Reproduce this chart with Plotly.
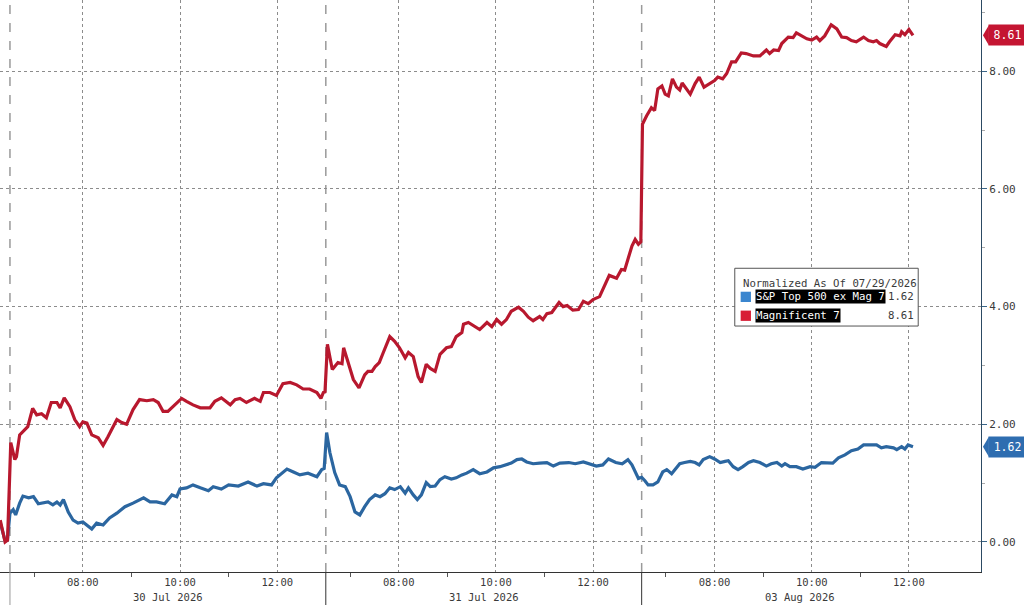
import plotly.graph_objects as go

# trading minutes counted from 30 Jul 06:30 (sessions 06:30-13:00, 390 min each)
mag7_t = [-12, -8, -6, -3, 0, 1, 6, 8, 12, 19,
          22, 28, 33, 39, 45, 51, 58, 62, 67, 74,
          80, 86, 90, 95, 101, 109, 115, 121, 132, 138,
          144, 152, 160, 169, 177, 183, 189, 195, 201, 212,
          218, 226, 235, 247, 253, 261, 272, 278, 284, 292,
          302, 309, 313, 321, 329, 337, 346, 354, 362, 370,
          379, 384, 387, 389, 392, 398, 405, 410, 412, 418,
          424, 431, 438, 442, 447, 451, 456, 461, 469, 475,
          481, 488, 492, 498, 504, 508, 514, 519, 525, 531,
          539, 545, 551, 558, 560, 566, 574, 580, 589, 595,
          601, 607, 613, 619, 628, 634, 640, 646, 654, 658,
          663, 669, 678, 683, 688, 695, 702, 708, 714, 720,
          728, 735, 740, 749, 755, 759, 763, 768, 772, 776,
          779, 781, 786, 792, 796, 800, 805, 809, 813, 818,
          823, 827, 830, 835, 840, 846, 851, 857, 864, 870,
          874, 880, 885, 891, 896, 903, 909, 918, 926, 934,
          938, 943, 949, 953, 961, 967, 971, 977, 984, 990,
          996, 1000, 1006, 1014, 1021, 1027, 1033, 1039, 1045, 1054,
          1060, 1066, 1070, 1074, 1082, 1086, 1093, 1099, 1101, 1105,
          1110, 1115]
mag7_v = [0.37, 0.15, 0.00, 0.03, 1.62, 1.69, 1.40, 1.45, 1.82, 1.91,
          1.96, 2.27, 2.16, 2.18, 2.11, 2.37, 2.37, 2.28, 2.45, 2.30,
          2.08, 1.96, 2.04, 2.02, 1.82, 1.77, 1.64, 1.79, 2.08, 2.03,
          2.00, 2.25, 2.42, 2.40, 2.42, 2.37, 2.22, 2.22, 2.30, 2.44,
          2.39, 2.33, 2.28, 2.28, 2.39, 2.45, 2.33, 2.42, 2.44, 2.37,
          2.44, 2.39, 2.54, 2.54, 2.49, 2.69, 2.71, 2.67, 2.60, 2.60,
          2.54, 2.44, 2.54, 2.55, 3.36, 2.93, 3.05, 3.03, 3.30, 3.05,
          2.76, 2.62, 2.84, 2.90, 2.90, 2.98, 3.05, 3.22, 3.49, 3.41,
          3.30, 3.13, 3.22, 3.15, 2.81, 2.71, 3.02, 2.95, 2.90, 3.19,
          3.30, 3.32, 3.49, 3.56, 3.70, 3.73, 3.66, 3.61, 3.73, 3.66,
          3.78, 3.70, 3.78, 3.92, 3.99, 3.92, 3.82, 3.76, 3.83, 3.78,
          3.88, 3.90, 4.07, 4.00, 4.02, 3.94, 3.95, 4.09, 4.05, 4.12,
          4.17, 4.38, 4.53, 4.48, 4.63, 4.62, 4.80, 5.03, 5.14, 5.06,
          5.10, 7.10, 7.24, 7.38, 7.33, 7.70, 7.75, 7.61, 7.58, 7.87,
          7.73, 7.68, 7.80, 7.70, 7.61, 7.79, 7.90, 7.73, 7.79, 7.84,
          7.90, 7.87, 7.96, 8.16, 8.16, 8.31, 8.30, 8.26, 8.26, 8.36,
          8.30, 8.36, 8.35, 8.47, 8.58, 8.57, 8.65, 8.60, 8.55, 8.53,
          8.58, 8.52, 8.60, 8.79, 8.72, 8.58, 8.57, 8.52, 8.50, 8.58,
          8.52, 8.50, 8.52, 8.47, 8.42, 8.50, 8.62, 8.60, 8.67, 8.62,
          8.71, 8.61]

spx_t = [-12, -8, -6, -3, 0, 4, 7, 12, 16, 23,
         29, 35, 41, 47, 53, 58, 62, 66, 72, 78,
         84, 90, 101, 107, 115, 123, 132, 142, 152, 165,
         173, 181, 191, 200, 206, 210, 218, 226, 235, 245,
         251, 261, 270, 282, 294, 305, 313, 323, 329, 342,
         350, 358, 368, 379, 385, 388, 391, 395, 401, 407,
         414, 420, 426, 432, 438, 444, 451, 457, 463, 469,
         475, 482, 488, 492, 498, 503, 508, 514, 519, 525,
         531, 537, 545, 551, 558, 564, 572, 580, 589, 597,
         605, 613, 619, 626, 632, 638, 646, 654, 663, 671,
         679, 690, 698, 708, 716, 724, 732, 739, 748, 756,
         763, 768, 776, 780, 784, 788, 794, 800, 806, 811,
         817, 823, 827, 833, 840, 846, 851, 856, 864, 870,
         877, 883, 887, 893, 899, 905, 912, 918, 926, 934,
         940, 947, 953, 957, 963, 971, 979, 988, 994, 1002,
         1010, 1016, 1023, 1031, 1039, 1047, 1054, 1062, 1070, 1076,
         1082, 1091, 1095, 1101, 1105, 1109, 1115]
spx_v = [0.33, 0.15, 0.02, 0.05, 0.49, 0.55, 0.46, 0.66, 0.78, 0.75,
         0.77, 0.65, 0.66, 0.68, 0.63, 0.68, 0.63, 0.72, 0.51, 0.37,
         0.32, 0.34, 0.22, 0.32, 0.29, 0.41, 0.49, 0.60, 0.66, 0.75,
         0.68, 0.68, 0.65, 0.80, 0.77, 0.90, 0.92, 0.97, 0.92, 0.87,
         0.94, 0.90, 0.97, 0.95, 1.02, 0.95, 0.99, 0.97, 1.09, 1.24,
         1.19, 1.14, 1.17, 1.11, 1.23, 1.25, 1.86, 1.52, 1.18, 0.97,
         0.94, 0.77, 0.51, 0.46, 0.60, 0.72, 0.80, 0.77, 0.82, 0.92,
         0.89, 0.94, 0.83, 0.92, 0.80, 0.72, 0.80, 1.01, 0.94, 0.95,
         1.06, 1.11, 1.07, 1.09, 1.14, 1.17, 1.23, 1.16, 1.19, 1.26,
         1.28, 1.31, 1.34, 1.40, 1.41, 1.36, 1.33, 1.34, 1.35, 1.29,
         1.34, 1.35, 1.33, 1.36, 1.33, 1.29, 1.31, 1.41, 1.35, 1.33,
         1.40, 1.31, 1.08, 1.10, 1.04, 0.97, 0.97, 1.02, 1.19, 1.23,
         1.16, 1.26, 1.33, 1.35, 1.37, 1.35, 1.31, 1.40, 1.45, 1.41,
         1.35, 1.37, 1.38, 1.28, 1.23, 1.28, 1.35, 1.38, 1.35, 1.29,
         1.33, 1.35, 1.29, 1.33, 1.28, 1.28, 1.24, 1.28, 1.27, 1.35,
         1.35, 1.34, 1.43, 1.48, 1.55, 1.58, 1.65, 1.65, 1.65, 1.60,
         1.62, 1.60, 1.57, 1.62, 1.58, 1.65, 1.62]

sessions = ["30 Jul 2026", "31 Jul 2026", "03 Aug 2026"]
session_len = 390
hour_labels = ["08:00", "10:00", "12:00"]
hour_offsets = [90, 210, 330]
minor_offsets = [30, 150, 270]
legend_title = "Normalized As Of 07/29/2026"
names = ["S&P Top 500 ex Mag 7", "Magnificent 7"]

RED = "#b8182e"
BLUE = "#2b66a0"
FONT = "DejaVu Sans Mono, Liberation Mono, monospace"
TXT = "#3a3a3a"

tickvals, ticktext, minorvals = [], [], []
for i in range(len(sessions)):
    for lab, off in zip(hour_labels, hour_offsets):
        tickvals.append(i * session_len + off)
        ticktext.append(lab)
    for off in minor_offsets:
        minorvals.append(i * session_len + off)

fig = go.Figure()
fig.add_trace(go.Scatter(x=spx_t, y=spx_v, mode="lines", name=names[0],
                         line=dict(color=BLUE, width=3.2)))
fig.add_trace(go.Scatter(x=mag7_t, y=mag7_v, mode="lines", name=names[1],
                         line=dict(color=RED, width=3.2)))

shapes = []
annotations = []

# session separators
for i in range(len(sessions)):
    xs = i * session_len
    shapes.append(dict(type="line", xref="x", yref="paper", x0=xs, x1=xs, y0=0, y1=1,
                       line=dict(color="#9a9a9a", width=1.5, dash="dash"), layer="below"))
    shapes.append(dict(type="line", xref="x", yref="paper", x0=xs, x1=xs, y0=0, y1=-0.06,
                       line=dict(color="#999999" if i == 0 else "#333333", width=1)))
    annotations.append(dict(x=xs + session_len / 2, y=-0.044, xref="x", yref="paper",
                            text=sessions[i], showarrow=False, yanchor="middle",
                            font=dict(family=FONT, size=10.5, color=TXT)))

# last value tags on the right axis
for val, col in [(spx_v[-1], "#2e6db0"), (mag7_v[-1], "#c41532")]:
    shapes.append(dict(type="path", xref="paper", yref="y",
                       path=f"M 1.002,{val} L 1.008,{val + 0.17} L 1.008,{val - 0.17} Z",
                       fillcolor=col, line=dict(width=0)))
    annotations.append(dict(x=1.007, y=val, xref="paper", yref="y", text=f"{val:.2f}",
                            showarrow=False, xanchor="left", yanchor="middle", align="center",
                            bgcolor=col, borderpad=3, width=31,
                            font=dict(family=FONT, size=11.5, color="white")))

# legend box
shapes.append(dict(type="rect", xref="paper", yref="paper", x0=0.749, x1=0.936,
                   y0=0.430, y1=0.531, fillcolor="white",
                   line=dict(color="#555555", width=1)))
annotations.append(dict(x=0.755, y=0.505, xref="paper", yref="paper", text=legend_title,
                        showarrow=False, xanchor="left", yanchor="middle",
                        font=dict(family=FONT, size=10.7, color=TXT)))
legend_rows = [(names[0], spx_v[-1], "#3a86cf", 0.481),
               (names[1], mag7_v[-1], "#d81e36", 0.448)]
for name, val, col, yy in legend_rows:
    shapes.append(dict(type="rect", xref="paper", yref="paper", x0=0.755, x1=0.7655,
                       y0=yy - 0.009, y1=yy + 0.009, fillcolor=col, line=dict(width=0)))
    annotations.append(dict(x=0.770, y=yy, xref="paper", yref="paper", text=name,
                            showarrow=False, xanchor="left", yanchor="middle",
                            bgcolor="black", borderpad=0,
                            font=dict(family=FONT, size=10.7, color="white")))
    annotations.append(dict(x=0.934, y=yy, xref="paper", yref="paper", text=f"{val:.2f}",
                            showarrow=False, xanchor="right", yanchor="middle",
                            font=dict(family=FONT, size=10.7, color=TXT)))

fig.update_layout(
    width=1024, height=605,
    margin=dict(l=0, r=43, t=0, b=33),
    paper_bgcolor="white", plot_bgcolor="white",
    showlegend=False,
    shapes=shapes, annotations=annotations,
    font=dict(family=FONT, size=10.5, color=TXT),
    xaxis=dict(range=[-12.3, 1199], tickmode="array", tickvals=tickvals, ticktext=ticktext,
               showgrid=True, gridcolor="#8c8c8c", griddash="dot", gridwidth=1,
               showline=True, linecolor="#333333", linewidth=1,
               ticks="", zeroline=False,
               minor=dict(tickvals=minorvals, ticks="outside", ticklen=4,
                          tickcolor="#555555", showgrid=False),
               tickfont=dict(family=FONT, size=10.5, color=TXT)),
    yaxis=dict(side="right", range=[-0.51, 9.21], tickmode="array",
               tickvals=[0, 2, 4, 6, 8], ticktext=["0.00", "2.00", "4.00", "6.00", "8.00"],
               showgrid=True, gridcolor="#8c8c8c", griddash="dot", gridwidth=1,
               showline=True, linecolor="#2c4a63", linewidth=1, zeroline=False,
               ticks="outside", ticklen=5, tickcolor="#3a6688",
               minor=dict(tickvals=[1, 3, 5, 7, 9], ticks="outside", ticklen=3,
                          tickcolor="#aaaaaa", showgrid=False),
               tickfont=dict(family=FONT, size=11, color=TXT)),
)

fig.write_html("out.html", config={"displayModeBar": False},
               post_script="document.body.style.margin='0';")
